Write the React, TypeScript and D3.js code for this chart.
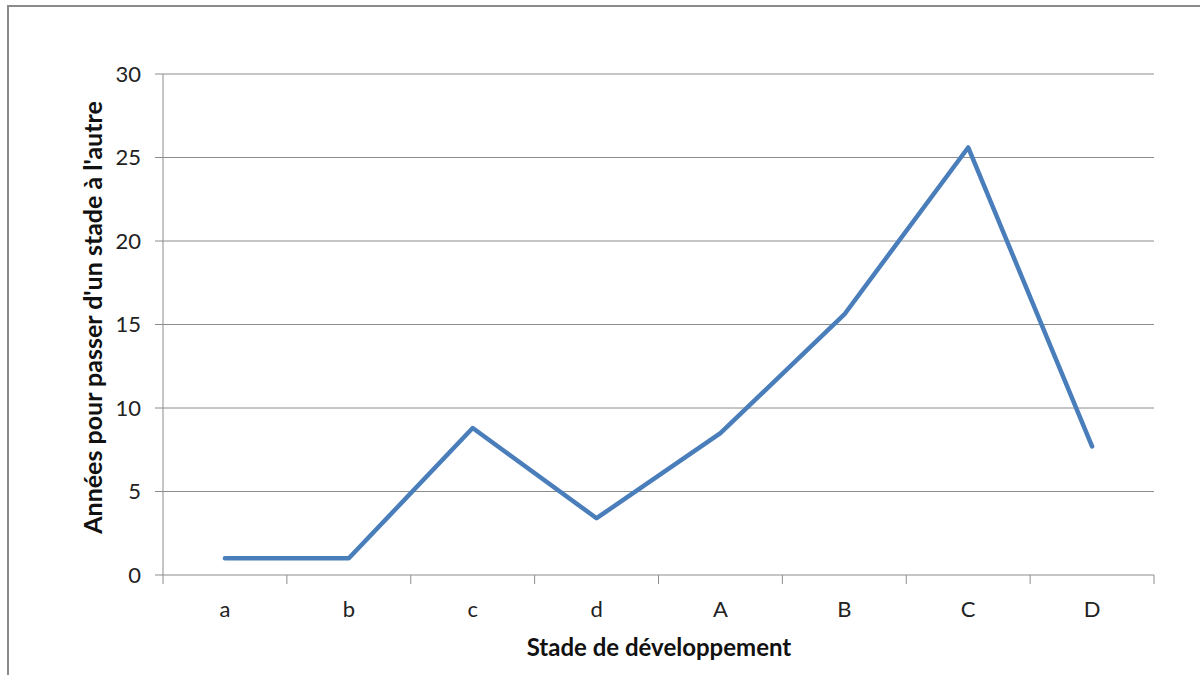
import React from 'react'
import * as d3 from 'd3'

const stades = ['a', 'b', 'c', 'd', 'A', 'B', 'C', 'D']
const annees = [1, 1, 8.8, 3.4, 8.5, 15.6, 25.6, 7.7]
const yTicks = [0, 5, 10, 15, 20, 25, 30]

const W = 1200
const H = 675
const left = 163
const right = 1154
const top = 74
const bottom = 575
const font = 'Lato, "Open Sans", sans-serif'

export default function App() {
    const x = d3.scaleBand().domain(stades).range([left, right])
    const y = d3.scaleLinear().domain([0, 30]).range([bottom, top])

    const line = d3.line<number>()
        .x((d, i) => (x(stades[i]) as number) + x.bandwidth() / 2)
        .y(d => y(d))

    const bounds = stades.map(s => x(s) as number).concat([right])

    return (
        <svg width={W} height={H} style={{ position: 'fixed', left: 0, top: 0, background: '#fff' }}>
            <rect x={8} y={6} width={1200} height={700} fill="#fff" stroke="#8a8a8a" strokeWidth={2} />
            {yTicks.map(t => (
                <g key={t}>
                    <line x1={left - 8} x2={right} y1={y(t)} y2={y(t)} stroke="#8c8c8c" strokeWidth={1} />
                    <text x={141} y={y(t)} dy="0.35em" textAnchor="end" fontFamily={font} fontSize={22} fill="#222">{t}</text>
                </g>
            ))}
            <line x1={left} x2={left} y1={top} y2={bottom} stroke="#8c8c8c" strokeWidth={1} />
            {bounds.map((b, i) => (
                <line key={i} x1={b} x2={b} y1={bottom} y2={bottom + 9} stroke="#8c8c8c" strokeWidth={1} />
            ))}
            {stades.map(s => (
                <text key={s} x={(x(s) as number) + x.bandwidth() / 2} y={617} textAnchor="middle" fontFamily={font} fontSize={22} fill="#222">{s}</text>
            ))}
            <path d={line(annees) || ''} fill="none" stroke="#4a7ebb" strokeWidth={4.5} strokeLinejoin="round" strokeLinecap="round" />
            <text x={659} y={656} textAnchor="middle" fontFamily={font} fontSize={24} fontWeight="bold" fill="#111">Stade de développement</text>
            <text transform={`translate(102, ${(top + bottom) / 2 - 7}) rotate(-90)`} textAnchor="middle" fontFamily={font} fontSize={25} fontWeight="bold" fill="#111">Années pour passer d'un stade à l'autre</text>
        </svg>
    )
}
